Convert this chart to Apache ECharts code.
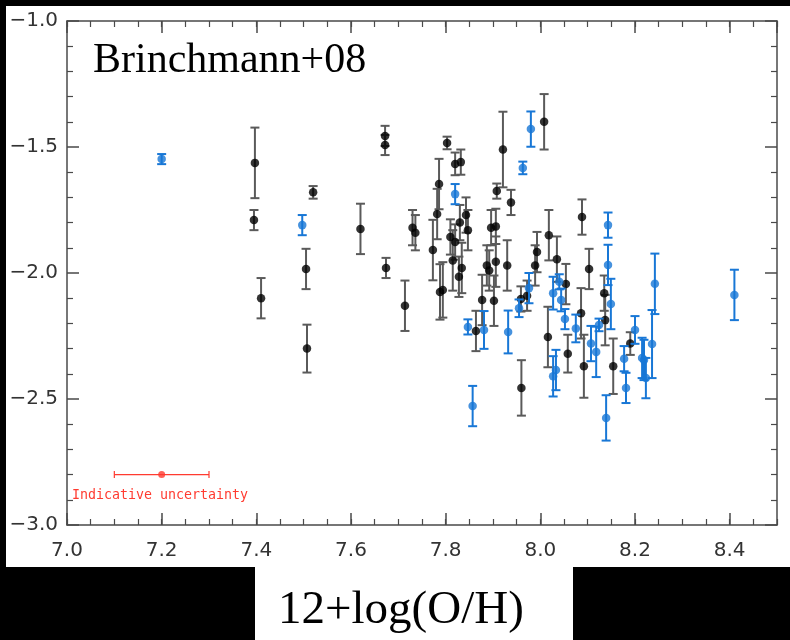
<!DOCTYPE html>
<html><head><meta charset="utf-8">
<script src="https://cdn.jsdelivr.net/npm/echarts@6/dist/echarts.min.js"></script>
<style>html,body{margin:0;padding:0;background:#000;}#c{width:790px;height:640px;}</style>
</head><body><div id="c"></div>
<script>
// [12+log(O/H), y, error]
const blackPoints = [
 [7.397,-1.563,0.14],[7.395,-1.79,0.04],[7.41,-2.10,0.08],[7.505,-1.984,0.08],[7.507,-2.30,0.095],
 [7.52,-1.68,0.025],[7.672,-1.456,0.04],[7.672,-1.492,0.04],[7.62,-1.825,0.10],[7.674,-1.98,0.04],
 [7.714,-2.13,0.1],[7.73,-1.82,0.07],[7.736,-1.84,0.07],[7.773,-1.909,0.12],[7.803,-1.484,0.025],
 [7.786,-1.647,0.1],[7.782,-1.766,0.1],[7.82,-1.567,0.045],[7.832,-1.56,0.05],[7.921,-1.51,0.15],
 [7.908,-1.675,0.03],[7.938,-1.72,0.05],[8.008,-1.40,0.11],[8.088,-1.778,0.07],[8.103,-1.984,0.08],
 [8.135,-2.08,0.07],[8.137,-2.187,0.1],[8.19,-2.28,0.045],[8.154,-2.37,0.11],[7.96,-2.456,0.11],
 [8.016,-2.254,0.12],[8.058,-2.32,0.075],[8.092,-2.37,0.125],[8.086,-2.16,0.1],[8.054,-2.044,0.08],
 [8.035,-1.945,0.09],[8.018,-1.85,0.1],[7.993,-1.917,0.08],[7.989,-1.97,0.08],[7.93,-1.97,0.1],
 [7.972,-2.09,0.06],[7.959,-2.103,0.05],[7.864,-2.23,0.08],[7.877,-2.107,0.1],[7.902,-2.11,0.1],
 [7.906,-1.955,0.1],[7.887,-1.97,0.08],[7.892,-1.99,0.08],[7.896,-1.82,0.07],[7.906,-1.815,0.07],
 [7.847,-1.83,0.08],[7.83,-1.80,0.07],[7.843,-1.77,0.07],[7.81,-1.857,0.07],[7.82,-1.877,0.07],
 [7.788,-2.075,0.11],[7.794,-2.067,0.11],[7.815,-1.95,0.12],[7.828,-2.015,0.08],[7.834,-1.98,0.1]
];
const bluePoints = [
 [7.2,-1.548,0.02],[7.497,-1.81,0.04],[7.82,-1.687,0.04],[7.98,-1.429,0.07],[7.963,-1.583,0.025],
 [8.143,-1.81,0.05],[8.143,-1.968,0.08],[8.149,-2.123,0.1],[8.242,-2.043,0.12],[8.41,-2.087,0.1],
 [8.2,-2.226,0.055],[8.236,-2.282,0.135],[8.215,-2.337,0.08],[8.219,-2.345,0.08],[8.223,-2.417,0.08],
 [8.177,-2.34,0.05],[8.181,-2.456,0.06],[8.118,-2.313,0.1],[8.107,-2.28,0.07],[8.124,-2.206,0.025],
 [8.139,-2.575,0.09],[7.857,-2.528,0.08],[8.027,-2.41,0.08],[8.033,-2.385,0.08],[8.075,-2.22,0.055],
 [8.052,-2.183,0.04],[8.044,-2.107,0.045],[8.027,-2.08,0.065],[8.04,-2.035,0.03],[7.976,-2.06,0.06],
 [7.955,-2.14,0.035],[7.932,-2.234,0.085],[7.881,-2.226,0.075],[7.847,-2.214,0.03]
];
// indicative uncertainty: [x, y, xError]
const uncertaintyPoint = [[7.2,-2.8,0.1]];
const xRange = [7.0, 8.5];
const yRange = [-3.0, -1.0];
const xMajor = 0.2, xMinor = 0.05, yMajor = 0.5;
const titleText = 'Brinchmann+08';
const xTitle = '12+log(O/H)';
const noteText = 'Indicative uncertainty';

const BLACK_BAR = '#5a5a5a', BLUE = '#1877d6', RED = '#ff3b30';
const fmt = v => (Math.abs(v - Math.round(v*10)/10) < 1e-9 ? v.toFixed(1) : '').replace('-', '\u2212');

function vBars(color){
  return function(params, api){
    const x = api.value(0), y = api.value(1), e = api.value(2);
    const t = api.coord([x, y + e]), b = api.coord([x, y - e]);
    const cw = 4.5;
    const st = {stroke: color, lineWidth: 2};
    return {type:'group', children:[
      {type:'line', shape:{x1:t[0],y1:t[1],x2:b[0],y2:b[1]}, style:st},
      {type:'line', shape:{x1:t[0]-cw,y1:t[1],x2:t[0]+cw,y2:t[1]}, style:st},
      {type:'line', shape:{x1:b[0]-cw,y1:b[1],x2:b[0]+cw,y2:b[1]}, style:st}
    ]};
  };
}
function hBars(color){
  return function(params, api){
    const x = api.value(0), y = api.value(1), e = api.value(2);
    const l = api.coord([x - e, y]), r = api.coord([x + e, y]);
    const ch = 3.5;
    const st = {stroke: color, lineWidth: 1.2};
    return {type:'group', children:[
      {type:'line', shape:{x1:l[0],y1:l[1],x2:r[0],y2:r[1]}, style:st},
      {type:'line', shape:{x1:l[0],y1:l[1]-ch,x2:l[0],y2:l[1]+ch}, style:st},
      {type:'line', shape:{x1:r[0],y1:r[1]-ch,x2:r[0],y2:r[1]+ch}, style:st}
    ]};
  };
}

const gridRect = {left:67, top:21, width:710, height:504};
const axisLineStyle = {color:'#4a4a4a', width:1.5};
const labelFont = {color:'#333', fontFamily:'DejaVu Sans', fontSize:20};

const chart = echarts.init(document.getElementById('c'), null, {renderer:'canvas'});
chart.setOption({
  backgroundColor:'#000',
  animation:false,
  graphic:[
    {type:'rect', z:-10, shape:{x:6,y:6,width:784,height:561}, style:{fill:'#fff'}},
    {type:'rect', z:-10, shape:{x:255,y:567,width:318,height:73}, style:{fill:'#fff'}},
    {type:'text', z:10, left:93, top:40, style:{text:titleText, font:'42px "Liberation Serif"', fill:'#000'}},
    {type:'text', z:10, left:278, top:587, style:{text:xTitle, font:'47px "Liberation Serif"', fill:'#000'}},
    {type:'text', z:10, left:72, top:489, style:{text:noteText, font:'13.3px "DejaVu Sans Mono"', fill:RED}}
  ],
  grid:[Object.assign({}, gridRect), Object.assign({}, gridRect)],
  xAxis:[
    {type:'value', gridIndex:0, position:'bottom', min:xRange[0], max:xRange[1], interval:xMinor,
     axisLine:{show:true, lineStyle:axisLineStyle}, axisTick:{show:true, inside:true, length:6, lineStyle:{color:'#4a4a4a', width:1.2}},
     axisLabel:{show:false}, splitLine:{show:false}},
    {type:'value', gridIndex:0, position:'top', min:xRange[0], max:xRange[1], interval:xMinor,
     axisLine:{show:true, lineStyle:axisLineStyle}, axisTick:{show:true, inside:true, length:6, lineStyle:{color:'#4a4a4a', width:1.2}},
     axisLabel:{show:false}, splitLine:{show:false}},
    {type:'value', gridIndex:1, position:'bottom', min:xRange[0], max:xRange[1], interval:xMajor,
     axisLine:{show:false}, axisTick:{show:true, inside:true, length:12, lineStyle:{color:'#4a4a4a', width:1.5}},
     axisLabel:Object.assign({show:true, margin:16, showMaxLabel:false, formatter:fmt}, labelFont), splitLine:{show:false}},
    {type:'value', gridIndex:1, position:'top', min:xRange[0], max:xRange[1], interval:xMajor,
     axisLine:{show:false}, axisTick:{show:true, inside:true, length:12, lineStyle:{color:'#4a4a4a', width:1.5}},
     axisLabel:{show:false}, splitLine:{show:false}}
  ],
  yAxis:[
    {type:'value', gridIndex:0, position:'left', min:yRange[0], max:yRange[1], interval:yMajor,
     axisLine:{show:true, lineStyle:axisLineStyle}, axisTick:{show:true, inside:true, length:12, lineStyle:{color:'#4a4a4a', width:1.5}},
     minorTick:{show:true, splitNumber:5, length:6, lineStyle:{color:'#4a4a4a', width:1.2}},
     axisLabel:Object.assign({show:true, margin:9, formatter:fmt}, labelFont), splitLine:{show:false}, minorSplitLine:{show:false}},
    {type:'value', gridIndex:0, position:'right', min:yRange[0], max:yRange[1], interval:yMajor,
     axisLine:{show:true, lineStyle:axisLineStyle}, axisTick:{show:true, inside:true, length:12, lineStyle:{color:'#4a4a4a', width:1.5}},
     minorTick:{show:true, splitNumber:5, length:6, lineStyle:{color:'#4a4a4a', width:1.2}},
     axisLabel:{show:false}, splitLine:{show:false}, minorSplitLine:{show:false}},
    {type:'value', gridIndex:1, min:yRange[0], max:yRange[1], show:false},
    {type:'value', gridIndex:1, min:yRange[0], max:yRange[1], show:false}
  ],
  series:[
    {type:'custom', xAxisIndex:0, yAxisIndex:0, data:blackPoints, renderItem:vBars(BLACK_BAR), encode:{x:0,y:1}, z:2},
    {type:'scatter', xAxisIndex:0, yAxisIndex:0, data:blackPoints.map(p=>[p[0],p[1]]), symbolSize:8.5, itemStyle:{color:'#000'}, z:3},
    {type:'custom', xAxisIndex:0, yAxisIndex:0, data:bluePoints, renderItem:vBars(BLUE), encode:{x:0,y:1}, z:4},
    {type:'scatter', xAxisIndex:0, yAxisIndex:0, data:bluePoints.map(p=>[p[0],p[1]]), symbolSize:8.5, itemStyle:{color:BLUE}, z:5},
    {type:'custom', xAxisIndex:0, yAxisIndex:0, data:uncertaintyPoint, renderItem:hBars(RED), encode:{x:0,y:1}, z:4},
    {type:'scatter', xAxisIndex:0, yAxisIndex:0, data:uncertaintyPoint.map(p=>[p[0],p[1]]), symbolSize:7, itemStyle:{color:RED}, z:5}
  ]
});
</script>
</body></html>
